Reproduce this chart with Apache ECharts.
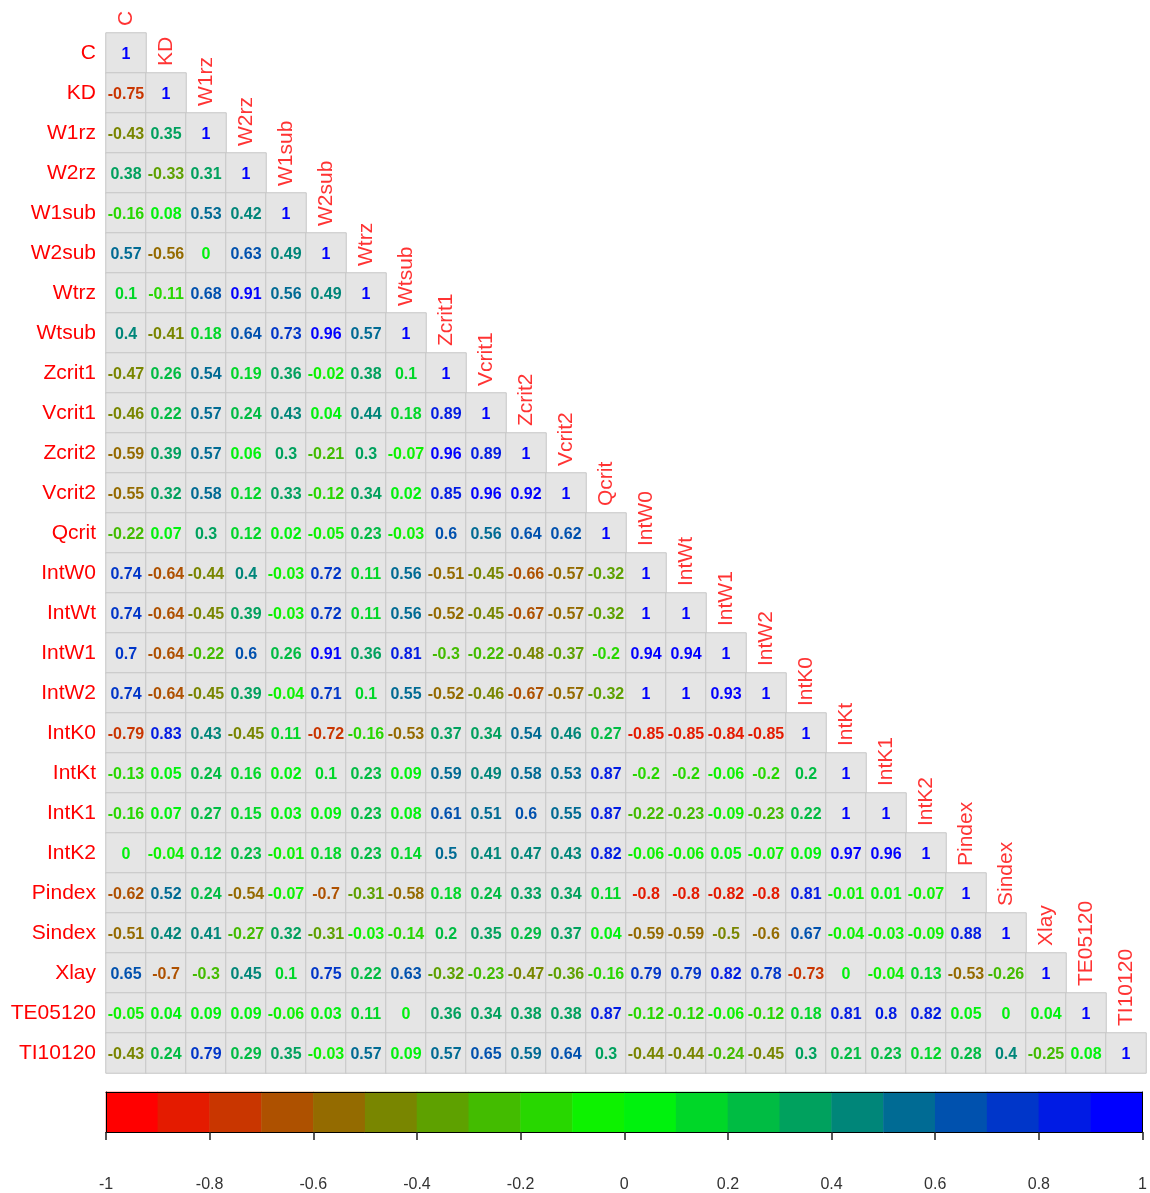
<!DOCTYPE html>
<html>
<head>
<meta charset="utf-8">
<title>corrplot</title>
<script src="https://cdn.jsdelivr.net/npm/echarts@6/dist/echarts.min.js"></script>
<style>
  html, body { margin: 0; padding: 0; background: #fff; }
  #chart { width: 1150px; height: 1193px; }
</style>
</head>
<body>
<div id="chart"></div>
<script>
// variable names (rows top to bottom, columns left to right)
const names = ['C', 'KD', 'W1rz', 'W2rz', 'W1sub', 'W2sub', 'Wtrz', 'Wtsub', 'Zcrit1', 'Vcrit1',
  'Zcrit2', 'Vcrit2', 'Qcrit', 'IntW0', 'IntWt', 'IntW1', 'IntW2', 'IntK0', 'IntKt', 'IntK1',
  'IntK2', 'Pindex', 'Sindex', 'Xlay', 'TE05120', 'TI10120']

// lower triangle of the correlation matrix, one array per row
const rowC = [1]
const rowKD = [-0.75, 1]
const rowW1rz = [-0.43, 0.35, 1]
const rowW2rz = [0.38, -0.33, 0.31, 1]
const rowW1sub = [-0.16, 0.08, 0.53, 0.42, 1]
const rowW2sub = [0.57, -0.56, 0, 0.63, 0.49, 1]
const rowWtrz = [0.1, -0.11, 0.68, 0.91, 0.56, 0.49, 1]
const rowWtsub = [0.4, -0.41, 0.18, 0.64, 0.73, 0.96, 0.57, 1]
const rowZcrit1 = [-0.47, 0.26, 0.54, 0.19, 0.36, -0.02, 0.38, 0.1, 1]
const rowVcrit1 = [-0.46, 0.22, 0.57, 0.24, 0.43, 0.04, 0.44, 0.18, 0.89, 1]
const rowZcrit2 = [-0.59, 0.39, 0.57, 0.06, 0.3, -0.21, 0.3, -0.07, 0.96, 0.89, 1]
const rowVcrit2 = [-0.55, 0.32, 0.58, 0.12, 0.33, -0.12, 0.34, 0.02, 0.85, 0.96, 0.92, 1]
const rowQcrit = [-0.22, 0.07, 0.3, 0.12, 0.02, -0.05, 0.23, -0.03, 0.6, 0.56, 0.64, 0.62, 1]
const rowIntW0 = [0.74, -0.64, -0.44, 0.4, -0.03, 0.72, 0.11, 0.56, -0.51, -0.45, -0.66, -0.57, -0.32, 1]
const rowIntWt = [0.74, -0.64, -0.45, 0.39, -0.03, 0.72, 0.11, 0.56, -0.52, -0.45, -0.67, -0.57, -0.32, 1, 1]
const rowIntW1 = [0.7, -0.64, -0.22, 0.6, 0.26, 0.91, 0.36, 0.81, -0.3, -0.22, -0.48, -0.37, -0.2, 0.94, 0.94, 1]
const rowIntW2 = [0.74, -0.64, -0.45, 0.39, -0.04, 0.71, 0.1, 0.55, -0.52, -0.46, -0.67, -0.57, -0.32, 1, 1, 0.93, 1]
const rowIntK0 = [-0.79, 0.83, 0.43, -0.45, 0.11, -0.72, -0.16, -0.53, 0.37, 0.34, 0.54, 0.46, 0.27, -0.85, -0.85, -0.84, -0.85, 1]
const rowIntKt = [-0.13, 0.05, 0.24, 0.16, 0.02, 0.1, 0.23, 0.09, 0.59, 0.49, 0.58, 0.53, 0.87, -0.2, -0.2, -0.06, -0.2, 0.2, 1]
const rowIntK1 = [-0.16, 0.07, 0.27, 0.15, 0.03, 0.09, 0.23, 0.08, 0.61, 0.51, 0.6, 0.55, 0.87, -0.22, -0.23, -0.09, -0.23, 0.22, 1, 1]
const rowIntK2 = [0, -0.04, 0.12, 0.23, -0.01, 0.18, 0.23, 0.14, 0.5, 0.41, 0.47, 0.43, 0.82, -0.06, -0.06, 0.05, -0.07, 0.09, 0.97, 0.96, 1]
const rowPindex = [-0.62, 0.52, 0.24, -0.54, -0.07, -0.7, -0.31, -0.58, 0.18, 0.24, 0.33, 0.34, 0.11, -0.8, -0.8, -0.82, -0.8, 0.81, -0.01, 0.01, -0.07, 1]
const rowSindex = [-0.51, 0.42, 0.41, -0.27, 0.32, -0.31, -0.03, -0.14, 0.2, 0.35, 0.29, 0.37, 0.04, -0.59, -0.59, -0.5, -0.6, 0.67, -0.04, -0.03, -0.09, 0.88, 1]
const rowXlay = [0.65, -0.7, -0.3, 0.45, 0.1, 0.75, 0.22, 0.63, -0.32, -0.23, -0.47, -0.36, -0.16, 0.79, 0.79, 0.82, 0.78, -0.73, 0, -0.04, 0.13, -0.53, -0.26, 1]
const rowTE05120 = [-0.05, 0.04, 0.09, 0.09, -0.06, 0.03, 0.11, 0, 0.36, 0.34, 0.38, 0.38, 0.87, -0.12, -0.12, -0.06, -0.12, 0.18, 0.81, 0.8, 0.82, 0.05, 0, 0.04, 1]
const rowTI10120 = [-0.43, 0.24, 0.79, 0.29, 0.35, -0.03, 0.57, 0.09, 0.57, 0.65, 0.59, 0.64, 0.3, -0.44, -0.44, -0.24, -0.45, 0.3, 0.21, 0.23, 0.12, 0.28, 0.4, -0.25, 0.08, 1]

const rows = [rowC, rowKD, rowW1rz, rowW2rz, rowW1sub, rowW2sub, rowWtrz, rowWtsub, rowZcrit1,
  rowVcrit1, rowZcrit2, rowVcrit2, rowQcrit, rowIntW0, rowIntWt, rowIntW1, rowIntW2, rowIntK0,
  rowIntKt, rowIntK1, rowIntK2, rowPindex, rowSindex, rowXlay, rowTE05120, rowTI10120]

// colour legend: 20 bins from -1 to 1
const binCount = 20
const legendMin = -1
const legendMax = 1
const legendStep = 0.2

// red -> green -> blue ramp, like colorRampPalette(c('red', 'green', 'blue'))
function rampColor(i, n) {
  const t = i / (n - 1)
  let r, g, b
  if (t <= 0.5) {
    r = 255 * (1 - 2 * t); g = 255 * 2 * t; b = 0
  } else {
    r = 0; g = 255 * (2 - 2 * t); b = 255 * (2 * t - 1)
  }
  return 'rgb(' + Math.round(r) + ',' + Math.round(g) + ',' + Math.round(b) + ')'
}

const palette = []
for (let i = 0; i < binCount; i++) palette.push(rampColor(i, binCount))

function binOf(v) {
  return Math.min(binCount - 1, Math.floor((v - legendMin) / (legendMax - legendMin) * binCount))
}

// cells of the matrix
const cellData = []
rows.forEach(function (row, i) {
  row.forEach(function (v, j) {
    cellData.push({
      value: [j, i, v],
      label: { color: palette[binOf(v)] }
    })
  })
})

// column names sit above the diagonal cells
const diagData = names.map(function (n, i) {
  return { name: n, value: [i, i] }
})

// colour legend cells
const binNames = palette.map(function (c, i) { return 'b' + i })
const legendData = palette.map(function (c, i) {
  return {
    value: [i, 0, legendMin + (i + 0.5) * (legendMax - legendMin) / binCount],
    itemStyle: { color: c }
  }
})

const font = 'Liberation Sans, Arial, sans-serif'

const chart = echarts.init(document.getElementById('chart'))

chart.setOption({
  animation: false,
  backgroundColor: '#fff',
  grid: [
    { left: 106, top: 33, width: 1040, height: 1040 },
    { left: 106, top: 1092, width: 1039, height: 40 }
  ],
  xAxis: [
    {
      type: 'category',
      gridIndex: 0,
      data: names,
      axisLine: { show: false },
      axisTick: { show: false },
      axisLabel: { show: false },
      splitLine: { show: false }
    },
    {
      type: 'category',
      gridIndex: 1,
      data: binNames,
      position: 'top',
      z: 5,
      axisLine: { show: true, onZero: false, lineStyle: { color: '#000', width: 1 } },
      axisTick: { show: false },
      axisLabel: { show: false },
      splitLine: { show: false }
    },
    {
      type: 'value',
      gridIndex: 1,
      min: legendMin,
      max: legendMax,
      interval: legendStep,
      position: 'bottom',
      z: 5,
      axisLine: { show: true, onZero: false, lineStyle: { color: '#000', width: 1 } },
      axisTick: { show: true, length: 8, lineStyle: { color: '#222', width: 1.5 } },
      axisLabel: {
        color: '#333',
        fontSize: 16,
        fontFamily: font,
        margin: 45,
        formatter: function (v) { return String(Math.round(v * 10) / 10) }
      },
      splitLine: { show: false }
    }
  ],
  yAxis: [
    {
      type: 'category',
      gridIndex: 0,
      data: names,
      inverse: true,
      axisLine: { show: false },
      axisTick: { show: false },
      axisLabel: {
        color: '#ff0000',
        fontSize: 21,
        fontFamily: font,
        margin: 10,
        padding: [3, 0, 0, 0]
      },
      splitLine: { show: false }
    },
    {
      type: 'category',
      gridIndex: 1,
      data: ['legend'],
      position: 'left',
      z: 5,
      axisLine: { show: true, onZero: false, lineStyle: { color: '#000', width: 1 } },
      axisTick: { show: false },
      axisLabel: { show: false }
    },
    {
      type: 'category',
      gridIndex: 1,
      data: ['legend'],
      position: 'right',
      z: 5,
      axisLine: { show: true, onZero: false, lineStyle: { color: '#000', width: 1 } },
      axisTick: { show: false },
      axisLabel: { show: false }
    }
  ],
  series: [
    {
      type: 'heatmap',
      xAxisIndex: 0,
      yAxisIndex: 0,
      data: cellData,
      itemStyle: { color: '#e5e5e5', borderColor: '#c6c6c6', borderWidth: 1 },
      label: {
        show: true,
        fontSize: 16,
        fontWeight: 'bold',
        fontFamily: font,
        offset: [0, 2],
        formatter: function (p) { return String(p.value[2]) }
      },
      emphasis: { disabled: true }
    },
    {
      type: 'scatter',
      xAxisIndex: 0,
      yAxisIndex: 0,
      data: diagData,
      symbolSize: 0,
      silent: true,
      z: 4,
      label: {
        show: true,
        position: 'inside',
        // offset is applied in the rotated frame: +x here points up on screen
        offset: [27, 0],
        rotate: 90,
        align: 'left',
        verticalAlign: 'middle',
        color: '#ff0000',
        fontSize: 21,
        fontFamily: font,
        formatter: function (p) { return p.name }
      }
    },
    {
      type: 'heatmap',
      xAxisIndex: 1,
      yAxisIndex: 1,
      data: legendData,
      itemStyle: { borderWidth: 0 },
      label: { show: false },
      emphasis: { disabled: true }
    }
  ]
})
</script>
</body>
</html>
